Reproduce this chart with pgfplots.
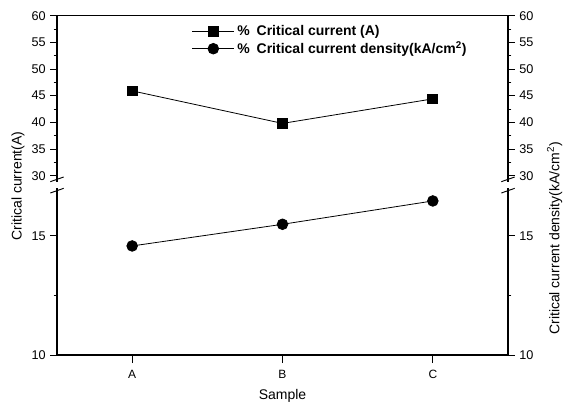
\documentclass[border=0pt]{standalone}
\usepackage{fontspec}
\setmainfont{Liberation Sans}
\usepackage{pgfplots}
\pgfplotsset{compat=1.18}

% shared look of the four axes (two halves, left and right scales)
\pgfplotsset{
  brk/.style={
    scale only axis,
    width=338.25pt,
    xmin=0.5, xmax=3.5,
    axis line style={line width=0.8pt},
    tick align=outside,
    major tick length=5pt,
    minor tick length=2.5pt,
    every tick/.style={black, line width=0.7pt},
    tick label style={font=\fontsize{9.5}{11}\selectfont},
    /pgf/number format/assume math mode=true,
    clip=false,
  },
  lowpart/.style={brk, at={(42.75pt,45pt)}, anchor=south west, height=127.5pt,
    ymin=10, ymax=17.14, ytick={10,15}, minor ytick={12.5}},
  highpart/.style={brk, at={(42.75pt,172.5pt)}, anchor=south west, height=127pt,
    ymin=28.25, ymax=60, ytick={30,35,...,60}, minor y tick num=1},
}

\begin{document}
\begin{tikzpicture}
\useasboundingbox (0,0) rectangle (423pt,311.25pt);

% lower half: critical current density
\begin{axis}[lowpart,
  axis x line*=bottom, axis y line*=left,
  xtick={1,2,3}, xticklabels={A,B,C},
  major x tick style={line width=0.7pt},
  xtick style={/pgfplots/major tick length=6pt},
  xticklabel style={font=\fontsize{9}{10}\selectfont, yshift=-3pt},
  xlabel={Sample},
  xlabel style={font=\fontsize{10.5}{12}\selectfont, at={(axis description cs:0.5,-0.24)}, anchor=center},
]
\addplot[black, line width=0.6pt, mark=*, mark size=4pt] coordinates {
  (1,14.58) (2,15.49) (3,16.47)
};
\end{axis}
\begin{axis}[lowpart, axis x line=none, axis y line*=right]
\addplot[draw=none] coordinates {(1,12)};
\end{axis}

% upper half: critical current
\begin{axis}[highpart,
  axis x line*=top, xtick=\empty, axis y line*=left,
  legend style={draw=none, fill=none, at={(0.29,0.975)}, anchor=north west,
    font=\bfseries\fontsize{10.5}{12}\selectfont, row sep=-1pt},
  legend cell align=left,
  legend image code/.code={
    \draw[mark repeat=2, mark phase=2, #1] plot coordinates {(0cm,0cm) (0.55cm,0cm) (1.1cm,0cm)};
  },
]
\addplot[black, line width=0.6pt, mark=square*, mark size=3.7pt] coordinates {
  (1,45.9) (2,39.8) (3,44.4)
};
\addlegendentry{\%\hspace{0.5em}Critical current (A)}
\addlegendimage{black, line width=0.6pt, mark=*, mark size=4pt}
\addlegendentry{\%\hspace{0.5em}Critical current density(kA/cm\textsuperscript{2})}
\end{axis}
\begin{axis}[highpart, axis x line=none, axis y line*=right]
\addplot[draw=none] coordinates {(1,40)};
\end{axis}

% axis break marks
\foreach \bx in {42.75pt,381pt}{
  \fill[white] (\bx-1pt,170.25pt) rectangle (\bx+1pt,174.75pt);
  \draw[line width=0.7pt] (\bx-5pt,166.5pt) -- (\bx+5pt,170pt);
  \draw[line width=0.7pt] (\bx-5pt,175pt) -- (\bx+5pt,178.5pt);
}

% axis titles centred on the whole broken axis
\node[rotate=90, font=\fontsize{10.5}{12}\selectfont] at (13.5pt,171.75pt) {Critical current(A)};
\node[rotate=90, anchor=west, inner sep=0pt, font=\fontsize{10.5}{12}\selectfont] at (416pt,60pt)
  {Critical current density(kA/cm\textsuperscript{2})};
\end{tikzpicture}
\end{document}
